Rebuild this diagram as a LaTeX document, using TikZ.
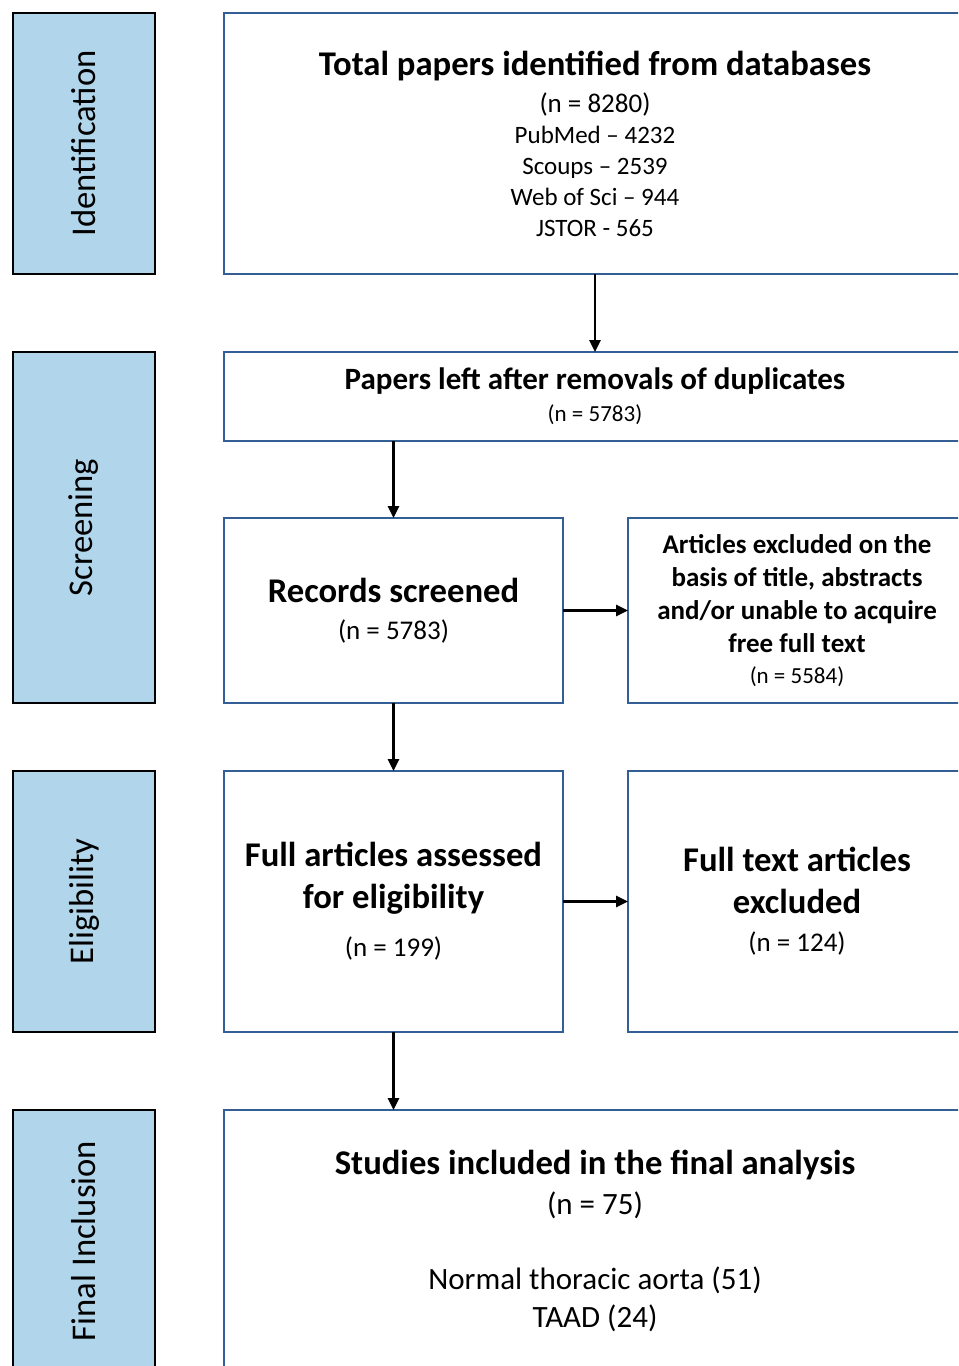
\documentclass[tikz,border=0pt]{standalone}
\usepackage{fontspec}
\setmainfont{Carlito}
\usetikzlibrary{arrows.meta,positioning}
\definecolor{phaseBlue}{RGB}{177,213,235}
\definecolor{boxBlue}{RGB}{52,94,150}

\newcommand{\fsz}[2]{\fontsize{#1}{#2}\selectfont}

\begin{document}
\begin{tikzpicture}[x=0.75pt,y=-0.75pt,
    phase/.style={draw=black,fill=phaseBlue,line width=1pt,rotate=90,
                  minimum height=106.5pt,inner sep=0pt,outer sep=0pt,
                  font=\fsz{26}{31}},
    box/.style={draw=boxBlue,line width=1.2pt,align=center,
                inner sep=0pt,outer sep=0pt},
    flow/.style={-{Triangle[length=9pt,width=8.5pt]},line width=1.6pt}]

    \clip (0,0) rectangle (958,1366);

    % Phases
    \foreach \n/\y/\h/\t in {ident/143.5/195.75/Identification,
        screen/527.5/263.25/Screening,
        elig/901.5/195.75/Eligibility,
        final/1241/196.5/Final Inclusion} {
      \node[phase,minimum width=\h pt] (\n) at (84,\y) {\t};
    }

    % Identification
    \node[box,minimum width=556.5pt,minimum height=195.75pt,
          font=\fsz{18.75}{23.25}] (total) at (595,143.5)
      {{\fsz{26}{31}\bfseries Total papers identified from databases}\\[4.5pt]
       {\fsz{20.25}{24}(n = 8280)}\\
       PubMed – 4232\\ Scoups – 2539\\ Web of Sci – 944\\ JSTOR - 565};

    % Screening
    \node[box,minimum width=556.5pt,minimum height=66.75pt,
          font=\fsz{17.25}{24}] (papers) at (595,396.5)
      {{\fsz{23.25}{28}\bfseries Papers left after removals of duplicates}\\
       (n = 5783)};
    \node[box,minimum width=254.25pt,minimum height=138.75pt,
          font=\fsz{20.25}{27.75}] (records) at (393.5,610.5)
      {{\fsz{26}{31}\bfseries Records screened}\\ (n = 5783)};
    \node[box,minimum width=253.5pt,minimum height=138.75pt,
          font=\fsz{20.25}{24.75}\bfseries] (excl) at (797,610.5)
      {Articles excluded on the\\ basis of title, abstracts\\
       and/or unable to acquire\\ free full text\\[-1.5pt]
       {\fsz{17.25}{21}\mdseries (n = 5584)}};

    % Eligibility
    \node[box,minimum width=254.25pt,minimum height=195.75pt,
          font=\fsz{26}{31.5}\bfseries] (full) at (393.5,901.5)
      {Full articles assessed\\ for eligibility\\[4.5pt]
       {\fsz{20.25}{24}\mdseries (n = 199)}};
    \node[box,minimum width=253.5pt,minimum height=195.75pt,
          font=\fsz{26}{31.5}\bfseries] (ftexcl) at (797,901.5)
      {Full text articles\\ excluded\\[-3pt]
       {\fsz{20.25}{24}\mdseries (n = 124)}};

    % Final inclusion
    \node[box,minimum width=556.5pt,minimum height=196.5pt,
          font=\fsz{23.25}{28.5}] (studies) at (595,1241)
      {{\fsz{26}{31}\bfseries Studies included in the final analysis}\\[1.5pt]
       (n = 75)\\[27.75pt]
       Normal thoracic aorta (51)\\ TAAD (24)};

    % Arrows
    \draw[flow] (total) -- (papers);
    \draw[flow] (papers.south -| records) -- (records);
    \draw[flow] (records) -- (excl);
    \draw[flow] (records) -- (full);
    \draw[flow] (full) -- (ftexcl);
    \draw[flow] (full) -- (full |- studies.north);
\end{tikzpicture}
\end{document}
